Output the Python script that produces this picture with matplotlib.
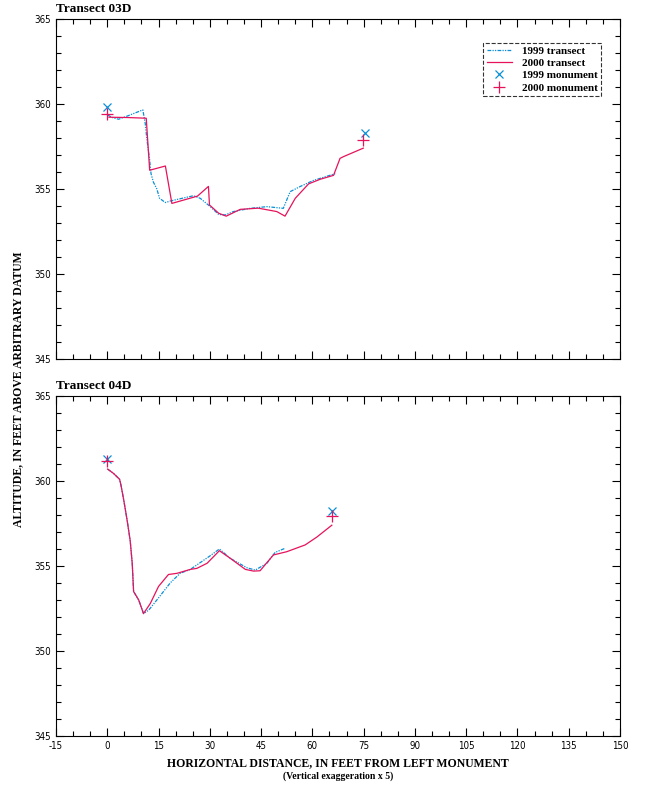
import matplotlib
matplotlib.use("Agg")
import matplotlib.pyplot as plt
from matplotlib.ticker import MultipleLocator

plt.rcParams["axes.unicode_minus"] = False

# ---- data ----
# Transect 03D
x99_03 = [0.1, 1.5, 3.3, 6.0, 10.4, 11.1, 11.6, 12.4, 12.8, 13.5, 14.5, 15.3, 17.0, 18.6,
          25.2, 27.2, 29.9, 32.6, 34.5, 36.9, 41.8, 46.7, 51.5, 53.5, 56.4, 60.3, 66.7]
y99_03 = [359.35, 359.2, 359.1, 359.3, 359.65, 358.86, 357.9, 356.7, 355.9, 355.4, 355.0, 354.45, 354.2, 354.3,
          354.6, 354.45, 354.0, 353.5, 353.47, 353.67, 353.86, 353.96, 353.86, 354.84, 355.14, 355.5, 355.9]
x00_03 = [0.5, 6.2, 11.4, 12.4, 17.0, 18.9, 26.4, 29.6, 29.9, 32.6, 34.8, 38.9, 44.2, 49.6,
          52.0, 55.0, 58.9, 62.3, 66.2, 68.1, 69.1, 74.9]
y00_03 = [359.22, 359.2, 359.16, 356.1, 356.35, 354.15, 354.58, 355.15, 354.06, 353.57, 353.4, 353.8, 353.87, 353.67,
          353.4, 354.45, 355.3, 355.57, 355.8, 356.8, 356.9, 357.4]
mon99_03_x = [0.0, 75.4]
mon99_03_y = [359.8, 358.27]
mon00_03_x = [0.0, 74.9]
mon00_03_y = [359.4, 357.9]

# Transect 04D
x99_04 = [0.1, 1.8, 3.6, 4.0, 4.8, 5.8, 6.7, 7.3, 7.7, 9.2, 10.6, 12.1, 14.5, 18.4, 21.3,
          24.3, 27.2, 30.1, 32.8, 36.0, 40.8, 43.3, 46.7, 49.1, 52.0]
y99_04 = [360.7, 360.45, 360.1, 359.76, 358.9, 357.7, 356.5, 355.16, 353.5, 353.0, 352.2, 352.4, 353.0, 354.0, 354.57,
          354.8, 355.2, 355.6, 356.0, 355.45, 354.9, 354.76, 355.16, 355.8, 356.04]
x00_04 = [0.1, 1.8, 3.6, 4.0, 4.8, 5.8, 6.7, 7.3, 7.7, 9.2, 10.6, 12.6, 15.0, 17.9, 20.4,
          24.3, 26.2, 29.2, 32.8, 36.0, 40.4, 42.8, 44.7, 48.6, 52.5, 57.9, 61.3, 65.7]
y00_04 = [360.7, 360.45, 360.1, 359.76, 358.9, 357.7, 356.5, 355.16, 353.5, 353.0, 352.2, 352.8, 353.8, 354.5, 354.57,
          354.8, 354.86, 355.16, 355.9, 355.45, 354.8, 354.7, 354.72, 355.65, 355.84, 356.24, 356.7, 357.4]
mon99_04_x = [0.0, 65.8]
mon99_04_y = [361.3, 358.24]
mon00_04_x = [0.0, 65.8]
mon00_04_y = [361.2, 357.94]

titles = ["Transect 03D", "Transect 04D"]

blue = "#0a8fd6"
red = "#e6135c"
serif = ["Liberation Serif", "DejaVu Serif"]
narrow = ["Liberation Sans Narrow", "DejaVu Sans"]

fig = plt.figure(figsize=(6.46, 7.86), dpi=100)
ax1 = fig.add_axes([0.0867, 0.5433, 0.873, 0.4326])
ax2 = fig.add_axes([0.0867, 0.0636, 0.873, 0.4326])

panels = [
    (ax1, x99_03, y99_03, x00_03, y00_03, mon99_03_x, mon99_03_y, mon00_03_x, mon00_03_y),
    (ax2, x99_04, y99_04, x00_04, y00_04, mon99_04_x, mon99_04_y, mon00_04_x, mon00_04_y),
]

for i, (ax, xa, ya, xb, yb, mxa, mya, mxb, myb) in enumerate(panels):
    ax.plot(xa, ya, color=blue, lw=0.9, linestyle=(0, (3, 1, 1, 1, 1, 1)), label="1999 transect")
    ax.plot(xb, yb, color=red, lw=0.9, label="2000 transect")
    ax.plot(mxa, mya, "x", color=blue, ms=6, mew=0.9, label="1999 monument")
    ax.plot(mxb, myb, "+", color=red, ms=9, mew=0.9, label="2000 monument")

    ax.set_xlim(-15, 150)
    ax.set_ylim(345, 365)
    ax.xaxis.set_major_locator(MultipleLocator(15))
    ax.xaxis.set_minor_locator(MultipleLocator(5))
    ax.yaxis.set_major_locator(MultipleLocator(5))
    ax.yaxis.set_minor_locator(MultipleLocator(1))
    ax.tick_params(which="both", direction="in", top=True, right=True, width=0.8)
    ax.tick_params(which="major", length=6)
    ax.tick_params(which="minor", length=3.5)
    for s in ax.spines.values():
        s.set_linewidth(0.8)
    for lab in ax.get_yticklabels() + ax.get_xticklabels():
        lab.set_family(narrow)
        lab.set_stretch("condensed")
        lab.set_fontsize(7)
    ax.text(0.0, 1.012, titles[i], transform=ax.transAxes, ha="left", va="bottom",
            family=serif, fontweight="bold", fontsize=9.5)

ax1.tick_params(labelbottom=False)

leg = ax1.legend(loc="upper right", bbox_to_anchor=(0.967, 0.930), frameon=True, fancybox=False,
                 prop={"family": serif, "weight": "bold", "size": 8}, handlelength=2.3,
                 handletextpad=0.9, borderpad=0.3, labelspacing=0.22, edgecolor="black",
                 numpoints=1, borderaxespad=0.0)
leg.get_frame().set_linestyle("--")
leg.get_frame().set_linewidth(0.8)

fig.text(0.028, 0.505, "ALTITUDE, IN FEET ABOVE ARBITRARY DATUM", rotation=90, ha="center", va="center",
         family=serif, fontweight="bold", fontsize=8.5)
fig.text(0.523, 0.029, "HORIZONTAL DISTANCE, IN FEET FROM LEFT MONUMENT", ha="center", va="center",
         family=serif, fontweight="bold", fontsize=8.5)
fig.text(0.523, 0.013, "(Vertical exaggeration x 5)", ha="center", va="center",
         family=serif, fontweight="bold", fontsize=7)

fig.savefig("out.png", dpi=100)
